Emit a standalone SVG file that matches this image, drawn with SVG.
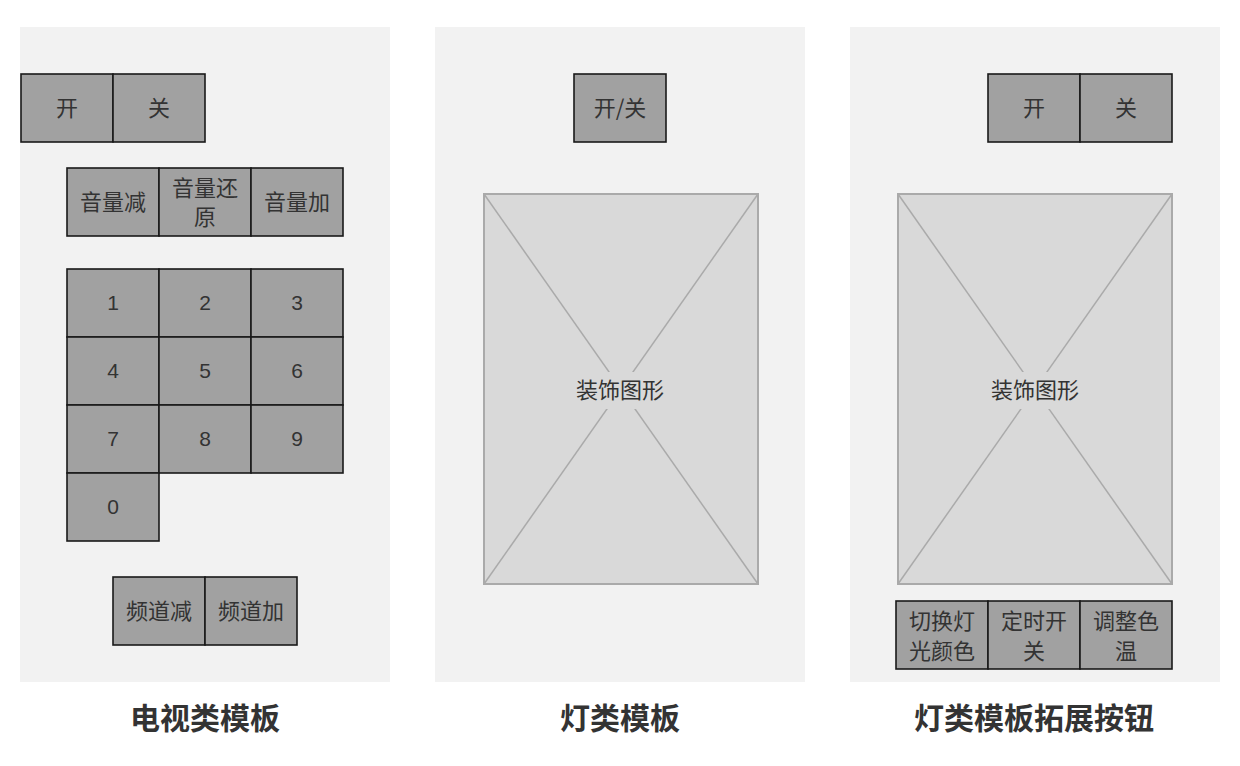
<svg xmlns="http://www.w3.org/2000/svg" width="1240" height="766" viewBox="0 0 1240 766">
<style>
.panel{fill:#f2f2f2}
.btn{fill:#a1a1a1;stroke:#1a1a1a;stroke-width:1.6}
.lbl{font-family:"Noto Sans CJK SC","Liberation Sans",sans-serif;font-size:22px;fill:#333;text-anchor:middle;dominant-baseline:central}
.num{font-family:"Liberation Sans","Noto Sans CJK SC",sans-serif;font-size:21px;fill:#333;text-anchor:middle;dominant-baseline:central}
.img{fill:#d9d9d9;stroke:#aaaaaa;stroke-width:2}
.diag{stroke:#aaaaaa;stroke-width:1.5}
.title{font-family:"Noto Sans CJK SC",sans-serif;font-size:30px;font-weight:bold;fill:#333;text-anchor:middle;dominant-baseline:central}
</style>
<rect width="1240" height="766" fill="#ffffff"/>
<g id="panel-tv">
<rect class="panel" x="20" y="27" width="370" height="655"/>
<g id="tv-on"><rect class="btn" x="21" y="74" width="92" height="68"/><text class="lbl" x="67" y="106">开</text></g>
<g id="tv-off"><rect class="btn" x="113" y="74" width="92" height="68"/><text class="lbl" x="159" y="106">关</text></g>
<g id="tv-voldown"><rect class="btn" x="67" y="168" width="92" height="68"/><text class="lbl" x="113" y="200">音量减</text></g>
<g id="tv-volreset"><rect class="btn" x="159" y="168" width="92" height="68"/><text class="lbl" x="205" y="186">音量还</text><text class="lbl" x="205" y="215">原</text></g>
<g id="tv-volup"><rect class="btn" x="251" y="168" width="92" height="68"/><text class="lbl" x="297" y="200">音量加</text></g>
<g id="tv-1"><rect class="btn" x="67" y="269" width="92" height="68"/><text class="num" x="113" y="302">1</text></g>
<g id="tv-2"><rect class="btn" x="159" y="269" width="92" height="68"/><text class="num" x="205" y="302">2</text></g>
<g id="tv-3"><rect class="btn" x="251" y="269" width="92" height="68"/><text class="num" x="297" y="302">3</text></g>
<g id="tv-4"><rect class="btn" x="67" y="337" width="92" height="68"/><text class="num" x="113" y="370">4</text></g>
<g id="tv-5"><rect class="btn" x="159" y="337" width="92" height="68"/><text class="num" x="205" y="370">5</text></g>
<g id="tv-6"><rect class="btn" x="251" y="337" width="92" height="68"/><text class="num" x="297" y="370">6</text></g>
<g id="tv-7"><rect class="btn" x="67" y="405" width="92" height="68"/><text class="num" x="113" y="438">7</text></g>
<g id="tv-8"><rect class="btn" x="159" y="405" width="92" height="68"/><text class="num" x="205" y="438">8</text></g>
<g id="tv-9"><rect class="btn" x="251" y="405" width="92" height="68"/><text class="num" x="297" y="438">9</text></g>
<g id="tv-0"><rect class="btn" x="67" y="473" width="92" height="68"/><text class="num" x="113" y="506">0</text></g>
<g id="tv-chdown"><rect class="btn" x="113" y="577" width="92" height="68"/><text class="lbl" x="159" y="609">频道减</text></g>
<g id="tv-chup"><rect class="btn" x="205" y="577" width="92" height="68"/><text class="lbl" x="251" y="609">频道加</text></g>
<text class="title" x="205" y="716">电视类模板</text>
</g>
<g id="panel-light">
<rect class="panel" x="435" y="27" width="370" height="655"/>
<g id="light-onoff"><rect class="btn" x="574" y="74" width="92" height="68"/><text class="lbl" x="620" y="106">开/关</text></g>
<g id="light-image">
<rect class="img" x="484" y="194" width="274" height="390"/>
<line class="diag" x1="484" y1="194" x2="758" y2="584"/>
<line class="diag" x1="758" y1="194" x2="484" y2="584"/>
<rect x="566" y="372" width="108" height="37" fill="#d9d9d9"/>
<text class="lbl" x="620" y="388">装饰图形</text>
</g>
<text class="title" x="620" y="716">灯类模板</text>
</g>
<g id="panel-light-ext">
<rect class="panel" x="850" y="27" width="370" height="655"/>
<g id="ext-on"><rect class="btn" x="988" y="74" width="92" height="68"/><text class="lbl" x="1034" y="106">开</text></g>
<g id="ext-off"><rect class="btn" x="1080" y="74" width="92" height="68"/><text class="lbl" x="1126" y="106">关</text></g>
<g id="ext-image">
<rect class="img" x="898" y="194" width="274" height="390"/>
<line class="diag" x1="898" y1="194" x2="1172" y2="584"/>
<line class="diag" x1="1172" y1="194" x2="898" y2="584"/>
<rect x="980" y="372" width="108" height="37" fill="#d9d9d9"/>
<text class="lbl" x="1035" y="388">装饰图形</text>
</g>
<g id="ext-color"><rect class="btn" x="896" y="601" width="92" height="68"/><text class="lbl" x="942" y="619">切换灯</text><text class="lbl" x="942" y="649">光颜色</text></g>
<g id="ext-timer"><rect class="btn" x="988" y="601" width="92" height="68"/><text class="lbl" x="1034" y="619">定时开</text><text class="lbl" x="1034" y="649">关</text></g>
<g id="ext-temp"><rect class="btn" x="1080" y="601" width="92" height="68"/><text class="lbl" x="1126" y="619">调整色</text><text class="lbl" x="1126" y="649">温</text></g>
<text class="title" x="1034" y="716">灯类模板拓展按钮</text>
</g>
<g id="connectors"></g>
</svg>
